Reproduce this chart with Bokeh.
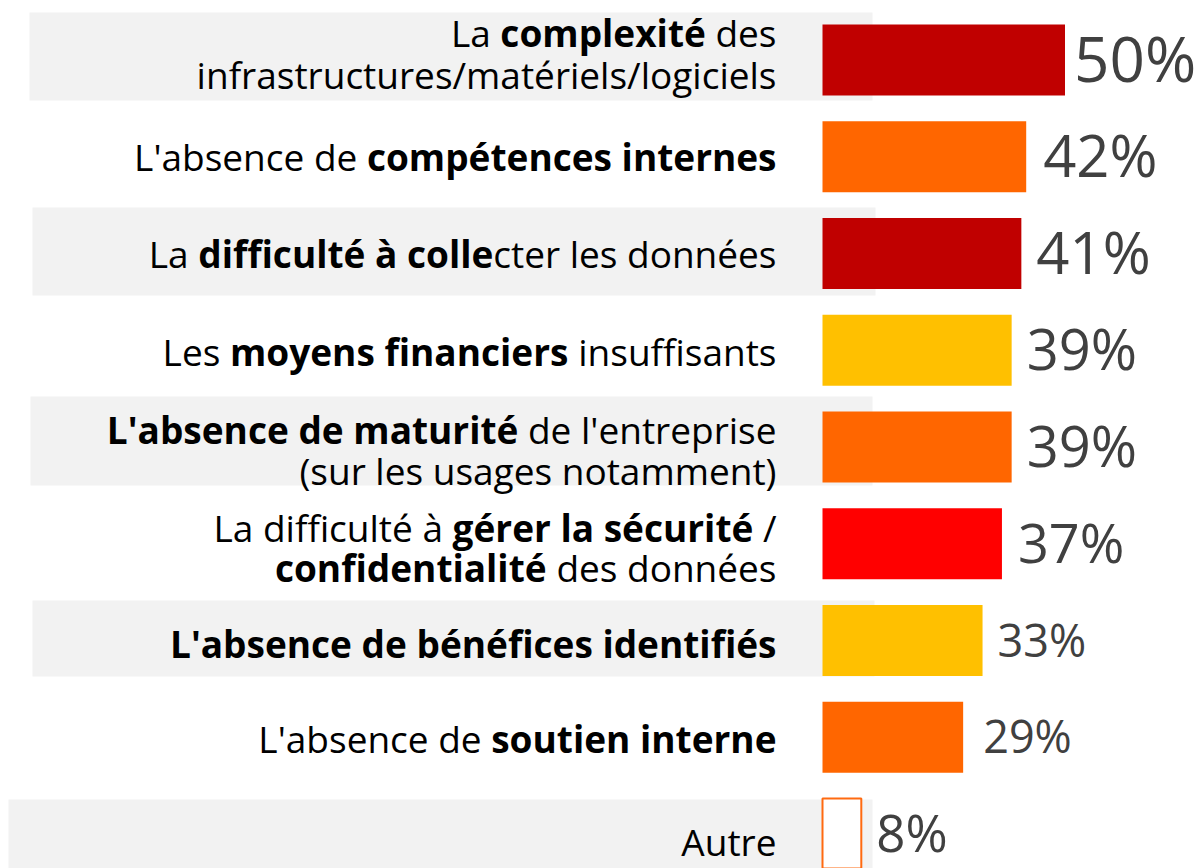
import glob
import os
import struct
import subprocess

from bokeh.plotting import figure
from bokeh.models import ColumnDataSource, Range1d
from bokeh.core.properties import value, field
from bokeh.embed import file_html
from bokeh.resources import INLINE

# ---------------- data ----------------
categories = [
    "La **complexité** des\ninfrastructures/matériels/logiciels",
    "L'absence de **compétences internes**",
    "La **difficulté à colle**cter les données",
    "Les **moyens financiers** insuffisants",
    "**L'absence de maturité** de l'entreprise\n(sur les usages notamment)",
    "La difficulté à **gérer la sécurité** /\n**confidentialité** des données",
    "**L'absence de bénéfices identifiés**",
    "L'absence de **soutien interne**",
    "Autre",
]
values = [50, 42, 41, 39, 39, 37, 33, 29, 8]
value_labels = ["50%", "42%", "41%", "39%", "39%", "37%", "33%", "29%", "8%"]
bar_colors = ["#C00000", "#FF6600", "#C00000", "#FFC000", "#FF6600",
              "#FF0000", "#FFC000", "#FF6600", "#FFFFFF"]

# ---------------- style / layout ----------------
W, H = 1197, 868
PX_X = 4.85          # px per percent
X0_ABS = 822         # px of 0%
Y0_ABS = 59.5        # px of first row centre
ROW = 96.75          # px between rows
BAR_H = 0.734
LABEL_FONT = "Open Sans"
LABEL_PX = 37
LABEL_RIGHT_ABS = 776
BASE_SHIFT = 0.41    # baseline correction (em)
LABEL_EXTRA = 3
LINE_DY = [[-15.5, 26.5], [11.5], [12], [13], [-5.5, 35.5], [-4.5, 36], [15.5], [13.5], [19.5]]
VALUE_SIZES = [62, 58, 58, 56, 56, 54, 45, 45, 51]
VALUE_GAPS = [9, 17, 15, 15, 15, 16, 15, 20, 15]
BAND_ROWS = [0, 2, 4, 6, 8]
BAND_PX = [(29, 872, -47.5, 40.5), (32, 875, -46, 42), (30, 872, -50.5, 38.5),
           (32, 874, -40, 36), (8, 872, -34.5, 45)]


def absx(px):
    return (px - X0_ABS) / PX_X


# ---------------- text measurement from font files ----------------
def _parse_font(path):
    with open(path, "rb") as f:
        data = f.read()
    base = 0
    if data[:4] == b"ttcf":
        base = struct.unpack(">I", data[12:16])[0]
    n = struct.unpack(">H", data[base + 4:base + 6])[0]
    tabs = {}
    for i in range(n):
        r = base + 12 + 16 * i
        tag = data[r:r + 4].decode("latin1")
        o = struct.unpack(">I", data[r + 8:r + 12])[0]
        tabs[tag] = o
    upem = struct.unpack(">H", data[tabs["head"] + 18:tabs["head"] + 20])[0]
    nhm = struct.unpack(">H", data[tabs["hhea"] + 34:tabs["hhea"] + 36])[0]
    h = tabs["hmtx"]
    adv = struct.unpack(">" + "Hh" * nhm, data[h:h + 4 * nhm])[0::2]
    c = tabs["cmap"]
    nt = struct.unpack(">H", data[c + 2:c + 4])[0]
    subs = []
    for i in range(nt):
        pid, eid, so = struct.unpack(">HHI", data[c + 4 + 8 * i:c + 12 + 8 * i])
        fmt = struct.unpack(">H", data[c + so:c + so + 2])[0]
        subs.append((pid, eid, fmt, c + so))

    def prio(s):
        pid, eid, fmt, _ = s
        if fmt == 12:
            return 0
        if fmt == 4 and pid == 3 and eid == 1:
            return 1
        if fmt == 4:
            return 2
        return 9

    subs.sort(key=prio)
    pid, eid, fmt, s = subs[0]
    cmap = {}
    if fmt == 12:
        ng = struct.unpack(">I", data[s + 12:s + 16])[0]
        for g in range(ng):
            a, b, st = struct.unpack(">III", data[s + 16 + 12 * g:s + 28 + 12 * g])
            for ch in range(a, min(b, 0x2FFF) + 1):
                cmap[ch] = st + ch - a
    elif fmt == 4:
        segx2 = struct.unpack(">H", data[s + 6:s + 8])[0]
        sc = segx2 // 2
        ends = struct.unpack(">%dH" % sc, data[s + 14:s + 14 + segx2])
        starts = struct.unpack(">%dH" % sc, data[s + 16 + segx2:s + 16 + 2 * segx2])
        deltas = struct.unpack(">%dh" % sc, data[s + 16 + 2 * segx2:s + 16 + 3 * segx2])
        roff = s + 16 + 3 * segx2
        ros = struct.unpack(">%dH" % sc, data[roff:roff + segx2])
        for k in range(sc):
            for ch in range(starts[k], min(ends[k], 0x2FFF) + 1):
                if ros[k] == 0:
                    g = (ch + deltas[k]) & 0xFFFF
                else:
                    a = roff + 2 * k + ros[k] + 2 * (ch - starts[k])
                    g = struct.unpack(">H", data[a:a + 2])[0]
                    if g:
                        g = (g + deltas[k]) & 0xFFFF
                cmap[ch] = g
    else:
        raise ValueError("cmap")
    return dict(upem=upem, adv=adv, cmap=cmap, variable=("fvar" in tabs))


def _find_font(family, bold):
    key = family.replace(" ", "").lower()
    files = []
    for d in ["/usr/share/fonts", "/usr/local/share/fonts", os.path.expanduser("~/.fonts"),
              os.path.expanduser("~/.local/share/fonts")]:
        files += glob.glob(os.path.join(d, "**", "*.*"), recursive=True)
    try:
        out = subprocess.run(["fc-match", "-f", "%{file}", family + (":bold" if bold else ":regular")],
                             capture_output=True, text=True, timeout=10).stdout.strip()
        if out:
            files.insert(0, out)
    except Exception:
        pass
    best, best_s = None, 99
    for f in files:
        if not f.lower().endswith((".ttf", ".otf", ".ttc")):
            continue
        b = os.path.basename(f).lower().replace("-", "").replace("_", "").replace(" ", "")
        if not b.startswith(key):
            continue
        if "italic" in b or "oblique" in b:
            continue
        var = "[" in b
        if not var and any(w in b for w in ["semi", "extra", "cond", "light", "narrow",
                                              "medium", "black", "thin", "heavy"]):
            continue
        if bold:
            sc = 0 if ("bold" in b and not var) else (5 if var else None)
        else:
            sc = 0 if "regular" in b else (1 if "bold" not in b else None)
        if sc is not None and sc < best_s:
            best, best_s = f, sc
    return best


_metrics = {}
for _b in (False, True):
    try:
        _p = _find_font(LABEL_FONT, _b)
        _metrics[_b] = _parse_font(_p) if _p else None
    except Exception:
        _metrics[_b] = None


def measure(text, bold):
    m = _metrics.get(bold)
    if m is None:
        return len(text) * LABEL_PX * (0.58 if bold else 0.52)
    adv, cmap, nhm = m["adv"], m["cmap"], len(m["adv"])
    tot = 0
    for ch in text:
        g = cmap.get(ord(ch), 0)
        tot += adv[min(g, nhm - 1)]
    w = tot / m["upem"] * LABEL_PX
    if bold and m["variable"]:
        w *= 1.09
    return w


# ---------------- figure ----------------
p = figure(width=W, height=H, output_backend="svg", toolbar_location=None, tools="",
           x_range=Range1d(absx(0), absx(W)),
           y_range=Range1d(start=(H - Y0_ABS) / ROW, end=(0 - Y0_ABS) / ROW),
           x_axis_location=None, y_axis_location=None, min_border=0)
p.grid.visible = False
p.outline_line_color = None
p.background_fill_color = "white"
p.border_fill_color = "white"

# grey bands behind alternate rows
band_src = ColumnDataSource(dict(
    left=[absx(b[0]) for b in BAND_PX],
    right=[absx(b[1]) for b in BAND_PX],
    top=[r + b[2] / ROW for r, b in zip(BAND_ROWS, BAND_PX)],
    bottom=[r + b[3] / ROW for r, b in zip(BAND_ROWS, BAND_PX)],
))
p.quad(left="left", right="right", top="top", bottom="bottom", source=band_src,
       fill_color="#F2F2F2", line_color=None)

rows = list(range(len(values)))
filled = ColumnDataSource(dict(row=rows[:-1], value=values[:-1], color=bar_colors[:-1]))
p.hbar(y="row", left=0, right="value", height=BAR_H, source=filled,
       fill_color="color", line_color=None)
other = ColumnDataSource(dict(row=rows[-1:], value=values[-1:], color=bar_colors[-1:]))
p.hbar(y="row", left=0, right="value", height=BAR_H, source=other,
       fill_color="color", line_color="#FF6A10", line_width=2)

# category labels with bold parts
reg = dict(x=[], y=[], text=[])
bld = dict(x=[], y=[], text=[])
for i, cat in enumerate(categories):
    for line, dy in zip(cat.split("\n"), LINE_DY[i]):
        parts = line.split("**")
        segs = [(t, k % 2 == 1) for k, t in enumerate(parts) if t]
        cursor = LABEL_RIGHT_ABS
        for t, b in reversed(segs):
            core = t.rstrip(" ")
            cursor -= (len(t) - len(core)) * measure(" ", b)
            core2 = core.lstrip(" ")
            tgt = bld if b else reg
            tgt["x"].append(absx(cursor))
            tgt["y"].append(i + (dy + LABEL_EXTRA - BASE_SHIFT * LABEL_PX) / ROW)
            tgt["text"].append(core2)
            cursor -= measure(core2, b) + (len(core) - len(core2)) * measure(" ", b)

p.text(x="x", y="y", text="text", source=ColumnDataSource(reg),
       text_font=value(LABEL_FONT), text_font_size=value(f"{LABEL_PX}px"),
       text_font_style="normal", text_color="#000000",
       text_align="right", text_baseline="alphabetic")
p.text(x="x", y="y", text="text", source=ColumnDataSource(bld),
       text_font=value(LABEL_FONT), text_font_size=value(f"{LABEL_PX}px"),
       text_font_style="bold", text_color="#000000",
       text_align="right", text_baseline="alphabetic")

# value labels
val_src = ColumnDataSource(dict(
    x=[v + g / PX_X for v, g in zip(values, VALUE_GAPS)],
    y=[r + (1 + (0.357 - BASE_SHIFT) * s) / ROW for r, s in zip(rows, VALUE_SIZES)],
    text=value_labels,
    size=[f"{s}px" for s in VALUE_SIZES],
))
p.text(x="x", y="y", text="text", source=val_src,
       text_font=value(LABEL_FONT), text_font_size=field("size"),
       text_color="#404040", text_align="left", text_baseline="alphabetic")

open("out.html", "w").write(file_html(p, INLINE))
